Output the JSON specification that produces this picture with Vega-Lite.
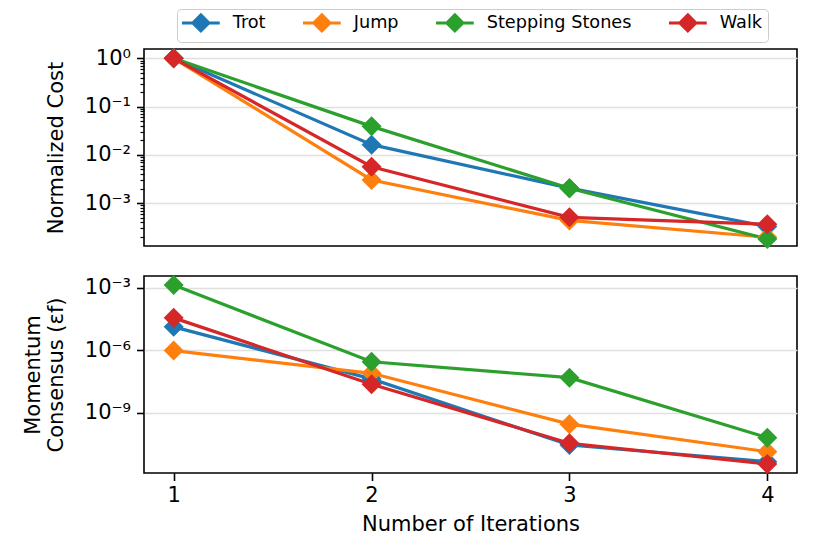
{
  "$schema": "https://vega.github.io/schema/vega-lite/v6.json",
  "background": "white",
  "padding": {"left": 21, "top": 8, "right": 5, "bottom": 5},
  "bounds": "flush",
  "config": {
    "font": "DejaVu Sans",
    "view": {"stroke": "black", "strokeWidth": 1.6},
    "concat": {"spacing": 30},
    "axis": {
      "domain": false,
      "labelFont": "DejaVu Sans",
      "titleFont": "DejaVu Sans",
      "labelFontSize": 21,
      "titleFontSize": 21,
      "titleFontWeight": "normal",
      "labelColor": "black",
      "titleColor": "black",
      "tickColor": "black",
      "tickWidth": 1.6,
      "tickSize": 7.5,
      "labelPadding": 6,
      "titlePadding": 8,
      "gridColor": "#e0e0e0",
      "gridWidth": 1.5
    }
  },
  "datasets": {
    "d": [
      {"iter": 1, "series": "Trot", "cost": 1.0, "consensus": 1.33e-5},
      {"iter": 2, "series": "Trot", "cost": 0.0163, "consensus": 4.2e-8},
      {"iter": 3, "series": "Trot", "cost": 0.00205, "consensus": 2.8e-11},
      {"iter": 4, "series": "Trot", "cost": 0.00033, "consensus": 4.4e-12},
      {"iter": 1, "series": "Jump", "cost": 1.0, "consensus": 9.6e-7},
      {"iter": 2, "series": "Jump", "cost": 0.00303, "consensus": 7.8e-8},
      {"iter": 3, "series": "Jump", "cost": 0.00044, "consensus": 2.8e-10},
      {"iter": 4, "series": "Jump", "cost": 0.000197, "consensus": 1.33e-11},
      {"iter": 1, "series": "Stepping Stones", "cost": 1.0, "consensus": 0.00135},
      {"iter": 2, "series": "Stepping Stones", "cost": 0.039, "consensus": 2.8e-7},
      {"iter": 3, "series": "Stepping Stones", "cost": 0.00204, "consensus": 4.8e-8},
      {"iter": 4, "series": "Stepping Stones", "cost": 0.000182, "consensus": 6.3e-11},
      {"iter": 1, "series": "Walk", "cost": 1.0, "consensus": 3.6e-5},
      {"iter": 2, "series": "Walk", "cost": 0.0057, "consensus": 2.3e-8},
      {"iter": 3, "series": "Walk", "cost": 0.00051, "consensus": 3.4e-11},
      {"iter": 4, "series": "Walk", "cost": 0.000366, "consensus": 3.4e-12}
    ]
  },
  "data": {"name": "d"},
  "resolve": {"scale": {"y": "independent"}},
  "vconcat": [
    {
      "width": 653,
      "height": 197,
      "encoding": {
        "x": {"field": "iter", "type": "quantitative", "scale": {"domain": [0.85, 4.15], "nice": false, "zero": false}, "axis": null},
        "y": {
          "field": "cost", "type": "quantitative",
          "scale": {"type": "log", "domain": [0.00013, 1.56], "nice": false},
          "axis": {
            "title": "Normalized Cost",
            "titlePadding": 18,
            "values": [0.0002,0.0003,0.0004,0.0005,0.0006,0.0007,0.0008,0.0009,0.001,0.002,0.003,0.004,0.005,0.006,0.007,0.008,0.009,0.01,0.02,0.03,0.04,0.05,0.06,0.07,0.08,0.09,0.1,0.2,0.3,0.4,0.5,0.6,0.7,0.8,0.9,1],
            "labelOverlap": false,
            "labelExpr": "abs(log(datum.value)/LN10 - round(log(datum.value)/LN10)) > 0.001 ? '' : '10' + ['⁰','⁻¹','⁻²','⁻³','⁻⁴'][-round(log(datum.value)/LN10)]",
            "grid": true,
            "gridOpacity": {"condition": {"test": "abs(log(datum.value)/LN10 - round(log(datum.value)/LN10)) < 0.001", "value": 1}, "value": 0},
            "tickSize": {"condition": {"test": "abs(log(datum.value)/LN10 - round(log(datum.value)/LN10)) < 0.001", "value": 7.5}, "value": 4},
            "tickWidth": {"condition": {"test": "abs(log(datum.value)/LN10 - round(log(datum.value)/LN10)) < 0.001", "value": 1.6}, "value": 1.2}
          }
        },
        "color": {
          "field": "series", "type": "nominal",
          "scale": {"domain": ["Trot", "Jump", "Stepping Stones", "Walk"], "range": ["#1f77b4", "#ff7f0e", "#2ca02c", "#d62728"]},
          "legend": {
            "orient": "none", "legendX": 33, "legendY": -40, "direction": "horizontal", "title": null,
            "symbolType": "M-2.7,0L2.7,0M0,-1.15L1.15,0L0,1.15L-1.15,0Z",
            "symbolSize": 196, "symbolStrokeWidth": 3, "symbolOpacity": 1, "symbolOffset": 10,
            "labelFont": "DejaVu Sans", "labelFontSize": 17.7, "labelColor": "black",
            "labelOffset": 23, "columnPadding": 30, "padding": 5,
            "strokeColor": "#cccccc", "fillColor": "white", "cornerRadius": 4,
            "encode": {"symbols": {"update": {"fill": {"scale": "color", "field": "value"}, "stroke": {"scale": "color", "field": "value"}}}}
          }
        }
      },
      "layer": [
        {"mark": {"type": "line", "strokeWidth": 3.2}},
        {"mark": {"type": "point", "shape": "diamond", "filled": true, "size": 400, "opacity": 1}}
      ]
    },
    {
      "width": 653,
      "height": 197,
      "encoding": {
        "x": {"field": "iter", "type": "quantitative", "scale": {"domain": [0.85, 4.15], "nice": false, "zero": false},
          "axis": {"values": [1, 2, 3, 4], "format": "d", "grid": false, "title": "Number of Iterations", "labelFlush": false, "labelPadding": 4, "titlePadding": 8}},
        "y": {
          "field": "consensus", "type": "quantitative",
          "scale": {"type": "log", "domain": [1.26e-12, 0.0037], "nice": false},
          "axis": {
            "title": ["Momentum", "Consensus (εf)"],
            "titleLineHeight": 23,
            "titlePadding": 18,
            "values": [0.001, 0.000001, 0.000000001],
            "labelOverlap": false,
            "labelExpr": "datum.value > 0.0001 ? '10⁻³' : datum.value > 0.0000001 ? '10⁻⁶' : '10⁻⁹'",
            "grid": true
          }
        },
        "color": {
          "field": "series", "type": "nominal",
          "scale": {"domain": ["Trot", "Jump", "Stepping Stones", "Walk"], "range": ["#1f77b4", "#ff7f0e", "#2ca02c", "#d62728"]}
        }
      },
      "layer": [
        {"mark": {"type": "line", "strokeWidth": 3.2}},
        {"mark": {"type": "point", "shape": "diamond", "filled": true, "size": 400, "opacity": 1}}
      ]
    }
  ]
}
